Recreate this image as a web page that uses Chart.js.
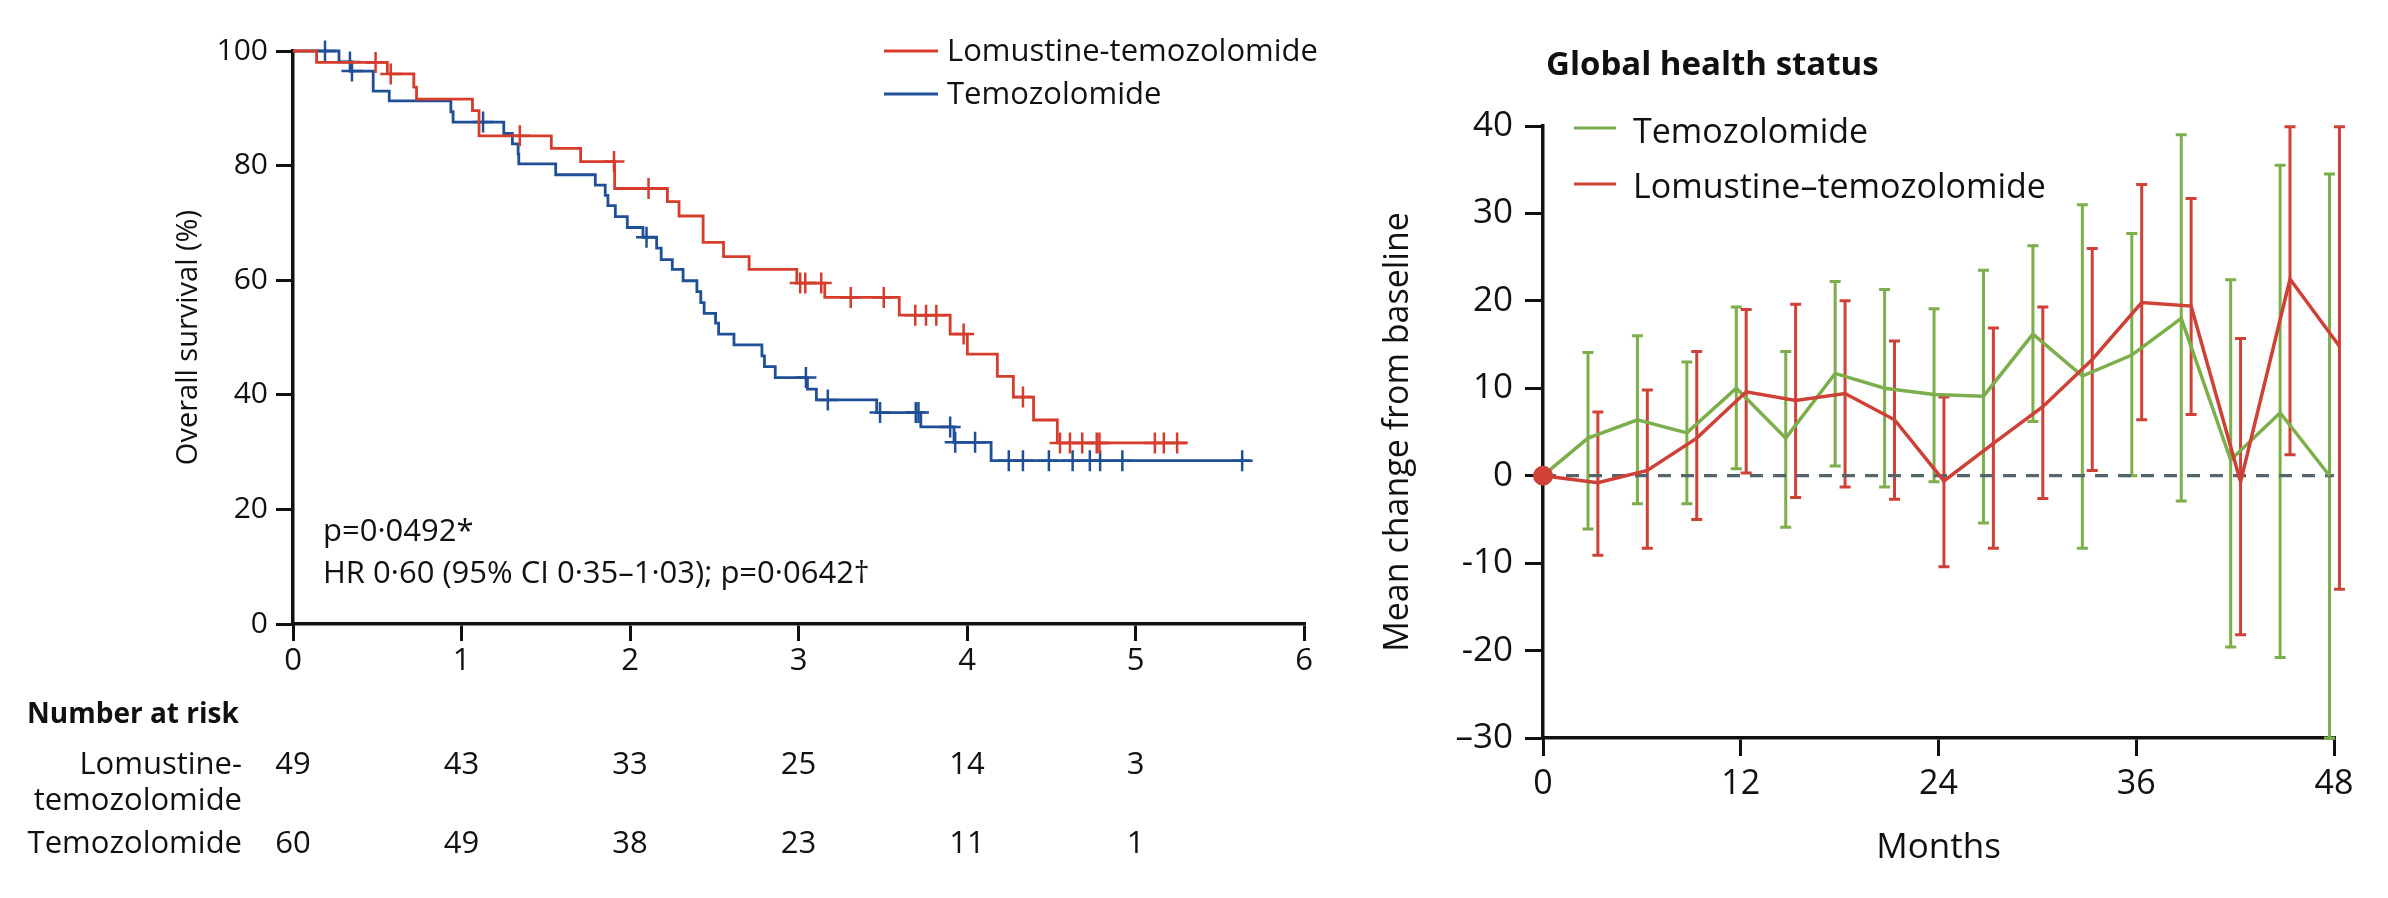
<!DOCTYPE html>
<html>
<head>
<meta charset="utf-8">
<script src="https://cdn.jsdelivr.net/npm/chart.js@4.4.1/dist/chart.umd.min.js"></script>
<style>
    body { margin: 0; background: #ffffff; }
    #wrap { position: relative; width: 2388px; height: 898px; }
    canvas { position: absolute; top: 0; }
</style>
</head>
<body>
<div id="wrap">
    <canvas id="km" width="1350" height="898" style="left:0"></canvas>
    <canvas id="qol" width="1038" height="898" style="left:1350px"></canvas>
</div>
<script>
// overall survival, Kaplan-Meier steps (years, %)
const lomTimes = [0, 0.14, 0.56, 0.717, 0.733, 1.065, 1.104, 1.533, 1.707, 1.909, 2.222, 2.291, 2.434, 2.555, 2.707, 2.99, 3.156, 3.598, 3.9, 4.002, 4.18, 4.275, 4.395, 4.536, 5.308];
const lomSurv = [100, 98.0, 96.0, 93.7, 91.6, 89.6, 85.2, 83.0, 80.7, 76.0, 73.7, 71.2, 66.6, 64.1, 61.9, 59.5, 57.0, 53.9, 50.6, 47.1, 43.2, 39.6, 35.6, 31.6, 31.6];
const lomCensored = [0.49, 0.58, 1.346, 1.905, 2.11, 3.01, 3.04, 3.135, 3.31, 3.506, 3.693, 3.757, 3.818, 3.98, 4.332, 4.552, 4.611, 4.684, 4.77, 4.786, 5.115, 5.168, 5.247];

const temTimes = [0, 0.273, 0.344, 0.476, 0.571, 0.937, 0.95, 1.251, 1.302, 1.336, 1.34, 1.559, 1.794, 1.853, 1.869, 1.913, 1.984, 2.077, 2.158, 2.185, 2.251, 2.315, 2.397, 2.42, 2.44, 2.508, 2.526, 2.617, 2.783, 2.798, 2.862, 3.053, 3.106, 3.464, 3.726, 3.923, 4.143, 5.683];
const temSurv = [100, 98.1, 96.5, 93.0, 91.3, 89.4, 87.6, 85.6, 83.8, 82.0, 80.3, 78.4, 76.6, 74.8, 73.0, 71.1, 69.2, 67.5, 65.6, 63.6, 61.9, 59.9, 58.0, 56.1, 54.2, 52.5, 50.6, 48.7, 46.8, 44.9, 43.0, 41.0, 39.1, 36.9, 34.4, 31.7, 28.5, 28.5];
const temCensored = [0.19, 0.338, 0.35, 1.128, 2.098, 3.044, 3.174, 3.484, 3.696, 3.712, 3.9, 3.93, 4.048, 4.248, 4.332, 4.486, 4.627, 4.729, 4.79, 4.922, 5.633];

const riskYears = [0, 1, 2, 3, 4, 5];
const lomRisk = [49, 43, 33, 25, 14, 3];
const temRisk = [60, 49, 38, 23, 11, 1];

// global health status, mean change from baseline
const months = [0, 3, 6, 9, 12, 15, 18, 21, 24, 27, 30, 33, 36, 39, 42, 45, 48];
const temMean = [0, 4.3, 6.4, 4.9, 10.0, 4.3, 11.7, 10.0, 9.3, 9.1, 16.2, 11.4, 13.8, 18.0, 1.8, 7.2, 0];
const temUpper = [null, 14.1, 16.0, 13.0, 19.3, 14.2, 22.2, 21.3, 19.1, 23.5, 26.3, 31.0, 27.7, 39.0, 22.4, 35.5, 34.5];
const temLower = [null, -6.1, -3.2, -3.2, 0.8, -5.9, 1.1, -1.3, -0.7, -5.4, 6.2, -8.3, 0.0, -2.9, -19.6, -20.8, -30];
const lomMean = [0, -0.8, 0.6, 4.3, 9.6, 8.6, 9.4, 6.4, -0.6, 3.7, 7.9, 13.3, 19.8, 19.4, -0.7, 22.5, 14.8];
const lomUpper = [null, 7.3, 9.8, 14.2, 19.0, 19.6, 20.0, 15.4, 9.0, 16.9, 19.3, 26.0, 33.3, 31.7, 15.7, 39.9, 39.9];
const lomLower = [null, -9.1, -8.3, -5.0, 0.3, -2.5, -1.3, -2.7, -10.4, -8.3, -2.6, 0.6, 6.4, 7.0, -18.2, 2.4, -13.0];
const qolYTicks = ['–30', '-20', '-10', '0', '10', '20', '30', '40'];

const FONT = "'Open Sans', sans-serif";
const KM_RED = '#d63c2c';
const KM_BLUE = '#1f4f97';
const QOL_RED = '#cf4136';
const QOL_GREEN = '#7cae4b';
const INK = '#111111';

Chart.defaults.font.family = FONT;
Chart.defaults.color = INK;

const survivalAt = (times, surv, t) => {
    let s = surv[0];
    for (let i = 0; i < times.length; i++) {
        if (times[i] <= t) s = surv[i];
    }
    return s;
};
const stepPoints = (times, surv) => times.map((t, i) => ({ x: t, y: surv[i] }));
const censorPoints = (cens, times, surv) => cens.map((t) => ({ x: t, y: survivalAt(times, surv, t) }));

const axisStyle = (tickLength) => ({
    grid: { drawOnChartArea: false, drawTicks: true, tickLength: tickLength, color: INK, lineWidth: 3 },
    border: { display: true, color: INK, width: 3.5 },
});

const kmText = {
    id: 'kmText',
    afterDraw: (chart) => {
        const ctx = chart.ctx;
        const x = chart.scales.x;
        ctx.save();
        ctx.fillStyle = INK;
        ctx.font = `31px ${FONT}`;
        ctx.textAlign = 'left';
        ctx.textBaseline = 'alphabetic';
        ctx.fillText('p=0·0492*', 323, 541);
        ctx.fillText('HR 0·60 (95% CI 0·35–1·03); p=0·0642†', 323, 583);

        // legend
        ctx.lineWidth = 3;
        [[KM_RED, 'Lomustine-temozolomide', 51, 61], [KM_BLUE, 'Temozolomide', 94, 104]].forEach(([c, label, ly, by]) => {
            ctx.strokeStyle = c;
            ctx.beginPath();
            ctx.moveTo(884, ly);
            ctx.lineTo(938, ly);
            ctx.stroke();
            ctx.fillText(label, 947, by);
        });

        // number at risk
        ctx.font = `bold 28px ${FONT}`;
        ctx.fillText('Number at risk', 27, 723);
        ctx.font = `31px ${FONT}`;
        ctx.textAlign = 'right';
        ctx.fillText('Lomustine-', 242, 774);
        ctx.fillText('temozolomide', 242, 810);
        ctx.fillText('Temozolomide', 242, 853);
        ctx.textAlign = 'center';
        riskYears.forEach((yr, i) => {
            const px = x.getPixelForValue(yr);
            ctx.fillText(String(lomRisk[i]), px, 774);
            ctx.fillText(String(temRisk[i]), px, 853);
        });
        ctx.restore();
    },
};

new Chart(document.getElementById('km'), {
    data: {
        datasets: [
            { type: 'line', data: stepPoints(lomTimes, lomSurv), stepped: 'before', borderColor: KM_RED, borderWidth: 2.8, pointRadius: 0, clip: false },
            { type: 'scatter', data: censorPoints(lomCensored, lomTimes, lomSurv), pointStyle: 'cross', pointRadius: 10.5, borderColor: KM_RED, borderWidth: 2.5, clip: false },
            { type: 'line', data: stepPoints(temTimes, temSurv), stepped: 'before', borderColor: KM_BLUE, borderWidth: 2.8, pointRadius: 0, clip: false },
            { type: 'scatter', data: censorPoints(temCensored, temTimes, temSurv), pointStyle: 'cross', pointRadius: 10.5, borderColor: KM_BLUE, borderWidth: 2.5, clip: false },
        ],
    },
    options: {
        responsive: false,
        animation: false,
        devicePixelRatio: 1,
        events: [],
        layout: { padding: { top: 51, right: 46, left: 0, bottom: 0 } },
        scales: {
            x: {
                type: 'linear', min: 0, max: 6,
                ticks: { stepSize: 1, font: { size: 31 }, padding: 2, color: INK },
                ...axisStyle(17),
                afterFit: (s) => { s.height = 274; },
            },
            y: {
                type: 'linear', min: 0, max: 100,
                ticks: { stepSize: 20, font: { size: 30 }, padding: 8, color: INK },
                ...axisStyle(17),
                title: { display: true, text: 'Overall survival (%)', font: { size: 29 }, padding: { top: 171, bottom: 0 }, color: INK },
                afterFit: (s) => { s.width = 293; },
            },
        },
        plugins: { legend: { display: false }, tooltip: { enabled: false } },
    },
    plugins: [kmText],
});

const TEM_DODGE = -0.27;
const LOM_DODGE = 0.33;
const meanPoints = (means, dodge) => months.map((m, i) => ({ x: m === 0 ? 0 : m + dodge, y: means[i] }));

const qolDecor = {
    id: 'qolDecor',
    beforeDatasetsDraw: (chart) => {
        const ctx = chart.ctx;
        const xs = chart.scales.x;
        const ys = chart.scales.y;
        ctx.save();
        ctx.lineWidth = 3;
        [[QOL_GREEN, temUpper, temLower, TEM_DODGE], [QOL_RED, lomUpper, lomLower, LOM_DODGE]].forEach(([c, up, lo, dodge]) => {
            ctx.strokeStyle = c;
            months.forEach((m, i) => {
                if (up[i] === null) return;
                const px = xs.getPixelForValue(m + dodge);
                const pu = ys.getPixelForValue(up[i]);
                const pl = ys.getPixelForValue(lo[i]);
                ctx.beginPath();
                ctx.moveTo(px, pu);
                ctx.lineTo(px, pl);
                ctx.moveTo(px - 5.5, pu);
                ctx.lineTo(px + 5.5, pu);
                ctx.moveTo(px - 5.5, pl);
                ctx.lineTo(px + 5.5, pl);
                ctx.stroke();
            });
        });
        ctx.restore();
    },
    afterDraw: (chart) => {
        const ctx = chart.ctx;
        ctx.save();
        ctx.fillStyle = INK;
        ctx.textAlign = 'left';
        ctx.textBaseline = 'alphabetic';
        ctx.font = `bold 33px ${FONT}`;
        ctx.fillText('Global health status', 196, 75);
        ctx.font = `34px ${FONT}`;
        ctx.lineWidth = 3;
        [[QOL_GREEN, 'Temozolomide', 128, 143], [QOL_RED, 'Lomustine–temozolomide', 184, 198]].forEach(([c, label, ly, by]) => {
            ctx.strokeStyle = c;
            ctx.beginPath();
            ctx.moveTo(224, ly);
            ctx.lineTo(266, ly);
            ctx.stroke();
            ctx.fillText(label, 283, by);
        });
        ctx.restore();
    },
};

new Chart(document.getElementById('qol'), {
    data: {
        datasets: [
            {
                type: 'line', data: meanPoints(lomMean, LOM_DODGE), borderColor: QOL_RED, borderWidth: 3.5, tension: 0,
                pointRadius: (c) => (c.dataIndex === 0 ? 10 : 0), pointBackgroundColor: QOL_RED, pointBorderWidth: 0, clip: false,
            },
            { type: 'line', data: meanPoints(temMean, TEM_DODGE), borderColor: QOL_GREEN, borderWidth: 3.5, tension: 0, pointRadius: 0, clip: false },
            { type: 'line', data: [{ x: 0, y: 0 }, { x: 48, y: 0 }], borderColor: '#56646c', borderWidth: 3.2, borderDash: [13, 10], pointRadius: 0, clip: false },
        ],
    },
    options: {
        responsive: false,
        animation: false,
        devicePixelRatio: 1,
        events: [],
        layout: { padding: { top: 126, right: 54, left: 0, bottom: 0 } },
        scales: {
            x: {
                type: 'linear', min: 0, max: 48,
                ticks: { stepSize: 12, font: { size: 34 }, padding: 8, color: INK },
                ...axisStyle(18),
                title: { display: true, text: 'Months', font: { size: 35 }, padding: { top: 0, bottom: 29 }, color: INK },
                afterFit: (s) => { s.height = 160; },
            },
            y: {
                type: 'linear', min: -30, max: 40,
                ticks: { stepSize: 10, font: { size: 35 }, padding: 12, color: INK, callback: (v, i) => qolYTicks[i] },
                ...axisStyle(18),
                title: { display: true, text: 'Mean change from baseline', font: { size: 34 }, padding: { top: 28, bottom: 0 }, color: INK },
                afterFit: (s) => { s.width = 193; },
            },
        },
        plugins: { legend: { display: false }, tooltip: { enabled: false } },
    },
    plugins: [qolDecor],
});
</script>
</body>
</html>
